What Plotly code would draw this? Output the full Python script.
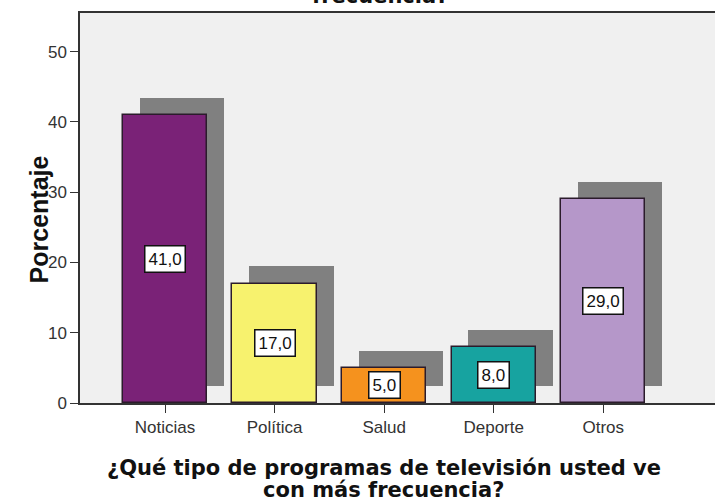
import plotly.graph_objects as go

categories = ["Noticias", "Política", "Salud", "Deporte", "Otros"]
percentages = [41.0, 17.0, 5.0, 8.0, 29.0]
bar_colors = ["#7a2277", "#f7f26e", "#f5921e", "#17a3a0", "#b597c9"]
y_ticks = [0, 10, 20, 30, 40, 50]

x_pos = list(range(len(categories)))
bar_width = 0.77
shadow_dx = 0.155
shadow_dy = 2.45

fig = go.Figure()

# drop shadow behind each bar
fig.add_trace(go.Bar(
    x=[x + shadow_dx for x in x_pos],
    y=percentages,
    base=shadow_dy,
    width=bar_width,
    marker=dict(color="#808080", line=dict(width=0)),
    hoverinfo="skip",
    showlegend=False,
))

fig.add_trace(go.Bar(
    x=x_pos,
    y=percentages,
    width=bar_width,
    marker=dict(color=bar_colors, line=dict(color="#2b1b2b", width=1.5)),
    showlegend=False,
))

for x, v in zip(x_pos, percentages):
    fig.add_annotation(
        x=x, y=max(v / 2, 2.1), xref="x", yref="y",
        text=f"{v:.1f}".replace(".", ","),
        showarrow=False,
        font=dict(family="Liberation Sans, Arial", size=17, color="#111"),
        bgcolor="white", bordercolor="#111", borderwidth=1.5, borderpad=3,
    )

# title, cut off at the top edge
fig.add_annotation(
    x=0.4724, y=1.0077, xref="paper", yref="paper", yanchor="bottom",
    text="<b>frecuencia?</b>", showarrow=False,
    font=dict(family="DejaVu Sans", size=21, color="#111"),
)

fig.add_annotation(
    x=0.4787, y=-0.1667, xref="paper", yref="paper", yanchor="middle",
    text="<b>¿Qué tipo de programas de televisión usted ve</b>", showarrow=False,
    font=dict(family="DejaVu Sans", size=21, color="#111"),
)
fig.add_annotation(
    x=0.4787, y=-0.2225, xref="paper", yref="paper", yanchor="middle",
    text="<b>con más frecuencia?</b>", showarrow=False,
    font=dict(family="DejaVu Sans", size=21, color="#111"),
)
fig.add_annotation(
    x=-0.0906, y=0.472, xref="paper", yref="paper",
    text="<b>Porcentaje</b>", textangle=-90, showarrow=False,
    font=dict(family="Liberation Sans, Arial", size=25, color="#111"),
)

fig.update_layout(
    width=715, height=501,
    margin=dict(l=80, r=0, t=13, b=98, autoexpand=False),
    paper_bgcolor="white",
    plot_bgcolor="#f0f0f0",
    barmode="overlay",
    bargap=0,
    font=dict(family="Liberation Sans, Arial", size=17, color="#333"),
)
fig.update_xaxes(
    range=[-0.776, 5.02],
    tickvals=x_pos, ticktext=categories,
    ticks="outside", ticklen=8, tickcolor="#333",
    showline=True, linecolor="#333", linewidth=1.5, mirror=True,
    showgrid=False, zeroline=False,
)
fig.update_yaxes(
    range=[0, 55.5],
    tickvals=y_ticks,
    ticks="outside", ticklen=8, tickcolor="#333",
    showline=True, linecolor="#333", linewidth=1.5,
    showgrid=False, zeroline=False,
)

# drop the default page margin so the figure sits at the window's corner
fig.write_html(
    "out.html",
    config={"displayModeBar": False},
    post_script="document.body.style.margin='0';",
)
